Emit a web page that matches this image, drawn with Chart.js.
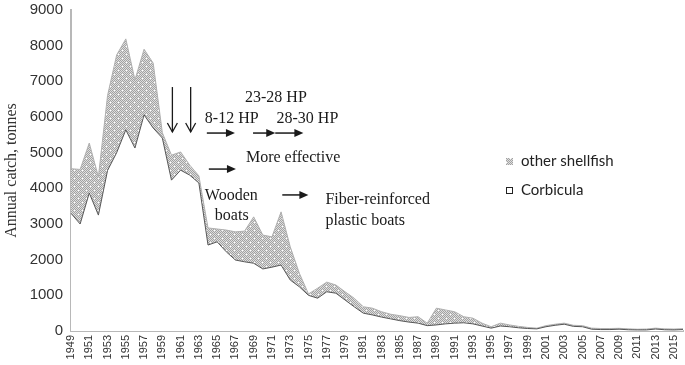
<!DOCTYPE html>
<html>
<head>
<meta charset="utf-8">
<script src="https://cdn.jsdelivr.net/npm/chart.js@4.4.1/dist/chart.umd.min.js"></script>
<style>
  html, body { margin: 0; padding: 0; background: #fff; }
  #wrap { width: 685px; height: 365px; }
</style>
</head>
<body>
<div id="wrap"><canvas id="catch" width="685" height="365"></canvas></div>
<script>
// Annual shellfish catch, tonnes (stacked area)
const years = [
  1949, 1950, 1951, 1952, 1953, 1954, 1955, 1956, 1957, 1958,
  1959, 1960, 1961, 1962, 1963, 1964, 1965, 1966, 1967, 1968,
  1969, 1970, 1971, 1972, 1973, 1974, 1975, 1976, 1977, 1978,
  1979, 1980, 1981, 1982, 1983, 1984, 1985, 1986, 1987, 1988,
  1989, 1990, 1991, 1992, 1993, 1994, 1995, 1996, 1997, 1998,
  1999, 2000, 2001, 2002, 2003, 2004, 2005, 2006, 2007, 2008,
  2009, 2010, 2011, 2012, 2013, 2014, 2015, 2016
];

const corbicula = [
  3300, 3000, 3870, 3250, 4500, 5000, 5640, 5130, 6060, 5690,
  5410, 4230, 4510, 4370, 4150, 2410, 2500, 2220, 1990, 1940,
  1900, 1740, 1790, 1850, 1430, 1240, 1000,  920, 1100, 1060,
   870,  680,  500,  450,  390,  340,  290,  250,  220,  150,
   170,  200,  220,  230,  200,  140,   80,  140,  120,   90,
    70,   60,  120,  160,  190,  130,  120,   50,   40,   40,
    50,   35,   30,   30,   55,   35,   30,   40
];

const otherShellfish = [
  1250, 1530, 1400, 1070, 2100, 2740, 2550, 1910, 1840, 1820,
   150,  700,  510,  280,  200,  480,  360,  610,  790,  860,
  1300,  950,  850, 1490,  930,  380,   40,  280,  270,  230,
   230,  240,  180,  190,  150,  130,  140,  130,  180,   70,
   470,  390,  320,  170,  160,   80,   40,   80,   50,   40,
    30,   20,   30,   30,   30,   30,   30,   30,   30,   30,
    25,   25,   20,   25,   25,   25,   25,   25
];

const yTicks = [0, 1000, 2000, 3000, 4000, 5000, 6000, 7000, 8000, 9000];

// Excel-style dotted grey fill
function dotPattern() {
  const t = document.createElement('canvas');
  t.width = 8; t.height = 8;
  const c = t.getContext('2d');
  for (let i = 0; i < 8; i++) {
    for (let j = 0; j < 8; j++) {
      c.fillStyle = (i + j) % 2 === 0 ? '#a2a2a2' : '#dedede';
      c.fillRect(i, j, 1, 1);
    }
  }
  c.fillStyle = '#ffffff';
  c.fillRect(2, 2, 1, 1);
  c.fillRect(6, 6, 1, 1);
  return c.createPattern(t, 'repeat');
}

const ctx = document.getElementById('catch').getContext('2d');
const dots = dotPattern();

// text notes and arrows, placed in (year, tonnes)
const notes = [
  { text: '23-28 HP',         year: 1968.05, value: 6530 },
  { text: '8-12 HP',          year: 1963.65, value: 5945 },
  { text: '28-30 HP',         year: 1971.5,  value: 5945 },
  { text: 'More effective',   year: 1968.15, value: 4850 },
  { text: 'Wooden',           year: 1963.65, value: 3785 },
  { text: 'boats',            year: 1964.75, value: 3225 },
  { text: 'Fiber-reinforced', year: 1976.85, value: 3670 },
  { text: 'plastic boats',    year: 1976.85, value: 3085 }
];
const rightArrows = [
  [1963.87, 1966.95, 5550],
  [1968.93, 1971.36, 5550],
  [1971.36, 1974.44, 5550],
  [1964.09, 1967.06, 4540],
  [1972.13, 1974.99, 3815]
];
const downArrows = [
  [1960.1, 6840, 5580],
  [1962.1, 6840, 5580]
];

const notesPlugin = {
  id: 'catchNotes',
  afterDraw(chart) {
    const c = chart.ctx;
    const xs = chart.scales.x, ys = chart.scales.y;
    const px = yr => xs.getPixelForValue(yr - years[0]);
    const py = v => ys.getPixelForValue(v);
    c.save();
    c.fillStyle = '#1a1a1a';
    c.strokeStyle = '#1a1a1a';
    c.font = '16px "Liberation Serif", "Times New Roman", serif';
    c.textAlign = 'left';
    c.textBaseline = 'middle';
    notes.forEach(n => c.fillText(n.text, px(n.year), py(n.value)));

    c.lineWidth = 1.5;
    rightArrows.forEach(([a, b, v]) => {
      const x1 = px(a), x2 = px(b), y = py(v);
      c.beginPath(); c.moveTo(x1, y); c.lineTo(x2 - 7, y); c.stroke();
      c.beginPath(); c.moveTo(x2, y); c.lineTo(x2 - 9, y - 4); c.lineTo(x2 - 9, y + 4); c.closePath(); c.fill();
    });
    c.lineWidth = 1.3;
    downArrows.forEach(([yr, v1, v2]) => {
      const x = px(yr), y1 = py(v1), y2 = py(v2);
      c.beginPath(); c.moveTo(x, y1); c.lineTo(x, y2); c.stroke();
      c.beginPath(); c.moveTo(x - 5, y2 - 9); c.lineTo(x, y2); c.lineTo(x + 5, y2 - 9); c.stroke();
    });

    // legend
    const ds = chart.data.datasets;
    c.font = '15px Lato, "Liberation Sans", sans-serif';
    c.fillStyle = '#222';
    c.fillText(ds[1].label, 521, 161);
    c.fillText(ds[0].label, 521, 190);
    c.fillStyle = ds[1].backgroundColor;
    c.fillRect(506, 158, 7, 7);
    c.fillStyle = '#fff';
    c.fillRect(506.5, 187.5, 6, 6);
    c.strokeStyle = '#222';
    c.lineWidth = 1;
    c.strokeRect(506.5, 187.5, 6, 6);
    c.restore();
  }
};

new Chart(ctx, {
  type: 'line',
  data: {
    labels: years,
    datasets: [
      {
        label: 'Corbicula',
        data: corbicula,
        fill: 'origin',
        backgroundColor: '#ffffff',
        borderColor: '#555555',
        borderWidth: 1,
        pointRadius: 0,
        tension: 0
      },
      {
        label: 'other shellfish',
        data: otherShellfish,
        fill: '-1',
        backgroundColor: dots,
        borderColor: '#b0b0b0',
        borderWidth: 1,
        pointRadius: 0,
        tension: 0
      }
    ]
  },
  options: {
    responsive: false,
    animation: false,
    devicePixelRatio: 1,
    layout: { padding: { top: 10, right: 2, bottom: 0, left: 0 } },
    plugins: { legend: { display: false }, tooltip: { enabled: false } },
    scales: {
      x: {
        offset: false,
        grid: { display: false, drawTicks: false },
        border: { color: '#b8b8b8', width: 2 },
        ticks: {
          autoSkip: false,
          maxRotation: 90,
          minRotation: 90,
          padding: 4,
          color: '#333',
          font: { family: 'Arial, "Liberation Sans", sans-serif', size: 11 },
          callback: (v, i) => (i % 2 === 0 ? String(years[i]) : '')
        },
        afterFit: s => { s.height = 34; s.paddingLeft = 0; s.paddingRight = 0; }
      },
      y: {
        stacked: true,
        min: yTicks[0],
        max: yTicks[yTicks.length - 1],
        grid: { display: false, drawTicks: false },
        border: { color: '#b8b8b8', width: 2 },
        ticks: {
          stepSize: 1000,
          padding: 8,
          color: '#333',
          font: { family: 'Arial, "Liberation Sans", sans-serif', size: 15 },
          callback: v => String(v)
        },
        title: {
          display: true,
          text: 'Annual catch, tonnes',
          color: '#333',
          font: { family: '"Liberation Serif", "Times New Roman", serif', size: 16 },
          padding: { top: 2, bottom: 0 }
        },
        afterFit: s => { s.width = 71; s.paddingTop = 0; s.paddingBottom = 0; }
      }
    }
  },
  plugins: [notesPlugin]
});
</script>
</body>
</html>
